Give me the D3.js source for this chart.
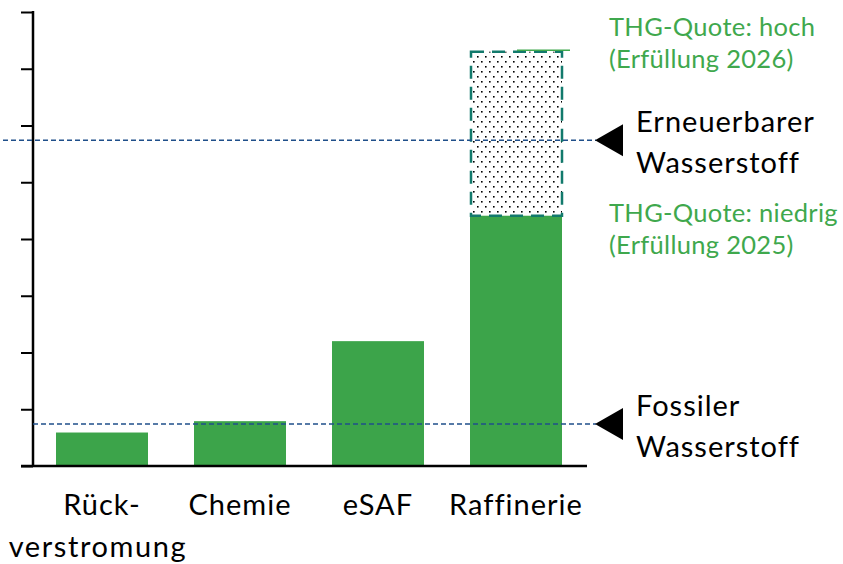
<!DOCTYPE html>
<html>
<head>
<meta charset="utf-8">
<script src="https://cdn.jsdelivr.net/npm/d3@7"></script>
<style>
  body { margin: 0; background: #fff; }
  svg { display: block; font-family: Lato, "Open Sans", sans-serif; }
</style>
</head>
<body>
<svg width="843" height="564"></svg>
<script>
// categories (two label lines each) and bar heights
const categories = ["Rück-verstromung", "Chemie", "eSAF", "Raffinerie"];
const labelLines = [["Rück-", "verstromung"], ["Chemie"], ["eSAF"], ["Raffinerie"]];
const baseValues = [0.59, 0.79, 2.2, 4.41];
// extra range for Raffinerie (high THG quota), dotted box
const upperValues = [null, null, null, 7.3];

// reference lines
const refLines = [
    { value: 5.74, lines: ["Erneuerbarer", "Wasserstoff"], x1: 3 },
    { value: 0.74, lines: ["Fossiler", "Wasserstoff"], x1: 33 }
];
const quotaLabels = [
    { value: 7.3, lines: ["THG-Quote: hoch", "(Erfüllung 2026)"] },
    { value: 4.41, lines: ["THG-Quote: niedrig", "(Erfüllung 2025)"] }
];
const yTicks = [0, 1, 2, 3, 4, 5, 6, 7, 8];

const GREEN = "#3ca44a";
const LABEL_GREEN = "#3fa84d";
const TEAL = "#127a6c";
const BLUE = "#1f4f8a";

const svg = d3.select("svg");
const margin = { top: 12, left: 33, bottom: 98 };
const height = +svg.attr("height") - margin.top - margin.bottom;

const x = d3.scaleBand()
    .domain(categories)
    .range([33, 585])
    .paddingInner(1 / 3)
    .paddingOuter(1 / 6);

const y = d3.scaleLinear().domain([0, 8]).range([margin.top + height, margin.top]);

// dotted fill pattern
const pat = svg.append("defs").append("pattern")
    .attr("id", "dots")
    .attr("patternUnits", "userSpaceOnUse")
    .attr("width", 8).attr("height", 10);
pat.append("rect").attr("x", 1).attr("y", 1).attr("width", 1.6).attr("height", 1.6).attr("fill", "#000");
pat.append("rect").attr("x", 5).attr("y", 6).attr("width", 1.6).attr("height", 1.6).attr("fill", "#000");

// bars
svg.selectAll("rect.bar")
    .data(categories)
    .enter().append("rect")
    .attr("class", "bar")
    .attr("x", d => x(d))
    .attr("width", x.bandwidth())
    .attr("y", (d, i) => y(baseValues[i]))
    .attr("height", (d, i) => y(0) - y(baseValues[i]))
    .attr("fill", GREEN);

// dotted range box
categories.forEach((c, i) => {
    if (upperValues[i] == null) return;
    svg.append("rect")
        .attr("x", x(c) + 1)
        .attr("width", x.bandwidth() - 1)
        .attr("y", y(upperValues[i]))
        .attr("height", y(baseValues[i]) - y(upperValues[i]))
        .attr("fill", "url(#dots)")
        .attr("stroke", TEAL)
        .attr("stroke-width", 2.5)
        .attr("stroke-dasharray", "13 8");
    // small leader line to the quota label
    svg.append("line")
        .attr("x1", x(c) + 47).attr("x2", x(c) + 100)
        .attr("y1", y(upperValues[i]) - 1.5).attr("y2", y(upperValues[i]) - 1.5)
        .attr("stroke", LABEL_GREEN).attr("stroke-width", 1.3);
});

// axes
svg.append("g")
    .attr("transform", `translate(${margin.left},0)`)
    .call(d3.axisLeft(y).tickValues(yTicks).tickSize(12).tickFormat(""))
    .call(g => g.select(".domain").remove())
    .call(g => g.selectAll(".tick line").attr("stroke", "#000").attr("stroke-width", 2));

svg.append("line")
    .attr("x1", margin.left).attr("x2", margin.left)
    .attr("y1", y(8) - 1).attr("y2", y(0))
    .attr("stroke", "#000").attr("stroke-width", 2.5);

svg.append("line")
    .attr("x1", margin.left - 12).attr("x2", 587)
    .attr("y1", y(0)).attr("y2", y(0))
    .attr("stroke", "#000").attr("stroke-width", 2.5);

// reference lines with arrows and labels
refLines.forEach(r => {
    const yy = y(r.value);
    svg.append("line")
        .attr("x1", r.x1).attr("x2", 596)
        .attr("y1", yy).attr("y2", yy)
        .attr("stroke", BLUE).attr("stroke-width", 1.3)
        .attr("stroke-dasharray", "5 3");
    svg.append("path")
        .attr("d", `M595,${yy} L623,${yy - 16} L623,${yy + 16} Z`)
        .attr("fill", "#000");
    const t = svg.append("text")
        .attr("x", 636)
        .attr("y", yy - 8)
        .attr("font-size", 29)
        .attr("letter-spacing", 1)
        .attr("fill", "#000");
    r.lines.forEach((l, k) => {
        t.append("tspan").attr("x", 636).attr("dy", k === 0 ? 0 : 41).text(l);
    });
});

quotaLabels.forEach((q, i) => {
    const yy = y(q.value);
    const t = svg.append("text")
        .attr("x", 609)
        .attr("y", i === 0 ? yy - 16 : yy + 6)
        .attr("font-size", 25.5)
        .attr("letter-spacing", 0.3)
        .attr("fill", LABEL_GREEN);
    q.lines.forEach((l, k) => {
        t.append("tspan").attr("x", 609).attr("dy", k === 0 ? 0 : 32).text(l);
    });
});

// category labels
categories.forEach((c, i) => {
    const cx = x(c) + x.bandwidth() / 2;
    labelLines[i].forEach((l, k) => {
        svg.append("text")
            .attr("x", k === 0 ? cx : cx - 4)
            .attr("y", 515 + k * 42)
            .attr("text-anchor", "middle")
            .attr("font-size", 29)
            .attr("letter-spacing", k === 0 ? 1 : 1.6)
            .attr("fill", "#000")
            .text(l);
    });
});
</script>
</body>
</html>
